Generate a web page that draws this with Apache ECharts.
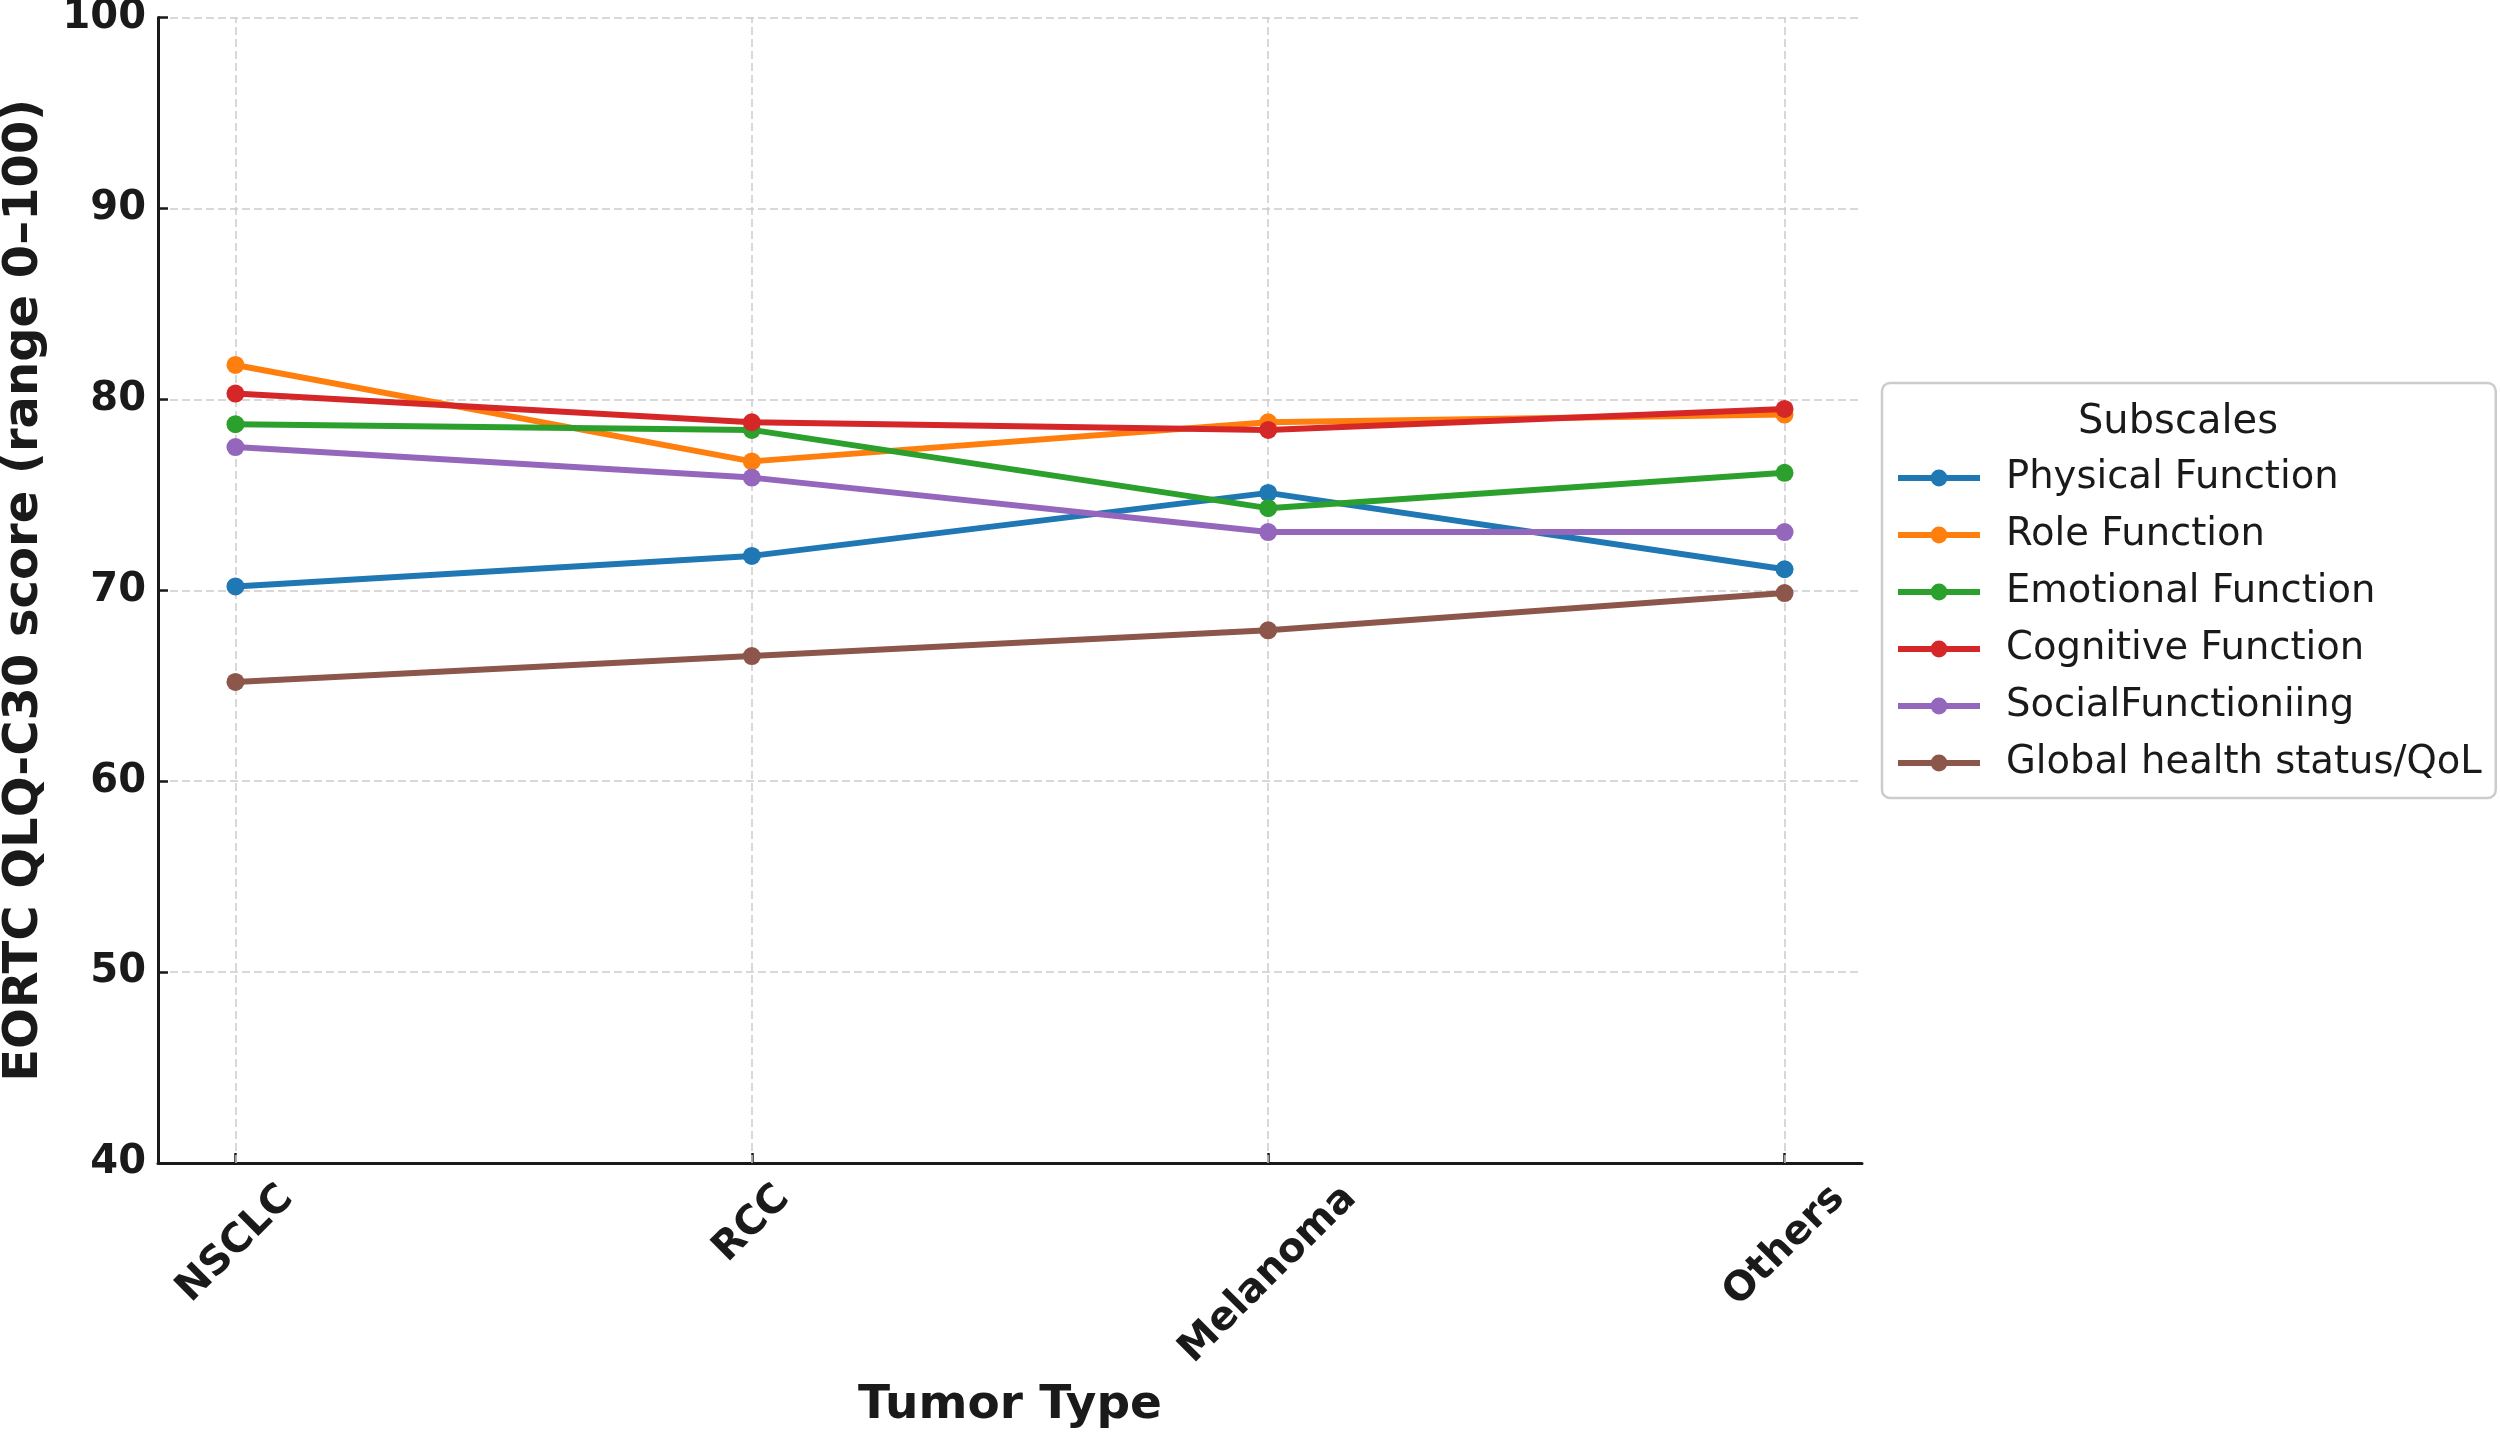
<!DOCTYPE html>
<html>
<head>
<meta charset="utf-8">
<title>EORTC QLQ-C30 by tumor type</title>
<script src="https://cdn.jsdelivr.net/npm/echarts@6/dist/echarts.min.js"></script>
<style>
  html, body { margin: 0; padding: 0; background: #fff; }
  #main { width: 2500px; height: 1432px; }
</style>
</head>
<body>
<div id="main"></div>
<script>
// categories on the x axis
const tumorTypes = ['NSCLC', 'RCC', 'Melanoma', 'Others'];
const yTicks = [40, 50, 60, 70, 80, 90, 100];

// one array per subscale
const physicalFunction = [70.2, 71.8, 75.1, 71.1];
const roleFunction = [81.8, 76.75, 78.8, 79.2];
const emotionalFunction = [78.7, 78.4, 74.3, 76.15];
const cognitiveFunction = [80.3, 78.8, 78.4, 79.5];
const socialFunctioning = [77.5, 75.9, 73.05, 73.05];
const globalHealth = [65.2, 66.55, 67.9, 69.85];

const subscaleNames = [
    'Physical Function',
    'Role Function',
    'Emotional Function',
    'Cognitive Function',
    'SocialFunctioniing',
    'Global health status/QoL'
];
const subscaleValues = [physicalFunction, roleFunction, emotionalFunction,
    cognitiveFunction, socialFunctioning, globalHealth];
const colors = ['#1f77b4', '#ff7f0e', '#2ca02c', '#d62728', '#9467bd', '#8c564b'];

const fontFamily = '"DejaVu Sans", sans-serif';
const textColor = '#1a1a1a';
const gridColor = '#cccccc';

// matplotlib centres the rotated label box under the tick with its top at a fixed gap,
// so longer labels sit lower; shift each one with rich padding to mimic that
const ctx = document.createElement('canvas').getContext('2d');
ctx.font = 'bold 40px "DejaVu Sans"';
const labelWidths = tumorTypes.map(t => ctx.measureText(t).width);
const minWidth = Math.min(...labelWidths);
const labelRich = {};
tumorTypes.forEach((t, i) => {
    const p = (labelWidths[i] - minWidth) / 2;
    labelRich['t' + i] = {
        fontSize: 40,
        fontWeight: 'bold',
        fontFamily: fontFamily,
        color: textColor,
        lineHeight: 40,
        padding: [p, p, 0, 0]
    };
});

const categoryIdx = tumorTypes.map((t, i) => i);

let series = subscaleNames.map((name, s) => ({
    name: name,
    type: 'line',
    symbol: 'circle',
    symbolSize: 18,
    color: colors[s],
    lineStyle: { width: 6, color: colors[s] },
    itemStyle: { color: colors[s] },
    data: subscaleValues[s].map((v, i) => [i, v]),
    z: 3 + s
}));

// vertical dashed grid lines at each category
series[0].markLine = {
    silent: true,
    symbol: 'none',
    label: { show: false },
    lineStyle: { color: gridColor, width: 1.5, type: [8, 4] },
    data: categoryIdx.map(i => ({ xAxis: i })),
    z: 1
};

let chart = echarts.init(document.getElementById('main'));
let option = {
    backgroundColor: '#ffffff',
    animation: false,
    grid: {
        left: 158,
        right: 638,
        top: 17.5,
        bottom: 269,
        containLabel: false,
        outerBoundsMode: 'none'
    },
    xAxis: {
        type: 'value',
        min: -0.15,
        max: 3.15,
        name: 'Tumor Type',
        nameLocation: 'middle',
        nameGap: 219,
        nameTextStyle: {
            fontSize: 47,
            fontWeight: 'bold',
            fontFamily: fontFamily,
            color: textColor
        },
        axisLine: { show: true, onZero: false, lineStyle: { color: textColor, width: 3 } },
        axisTick: {
            show: true,
            inside: true,
            length: 10,
            customValues: categoryIdx,
            lineStyle: { color: textColor, width: 2.5 }
        },
        axisLabel: {
            show: true,
            customValues: categoryIdx,
            rotate: 45,
            align: 'center',
            verticalAlign: 'middle',
            margin: 61,
            formatter: v => {
                const i = Math.round(v);
                return '{t' + i + '|' + tumorTypes[i] + '}';
            },
            rich: labelRich
        },
        splitLine: { show: false }
    },
    yAxis: {
        type: 'value',
        min: yTicks[0],
        max: yTicks[yTicks.length - 1],
        interval: 10,
        name: 'EORTC QLQ-C30 score (range 0\u2013100)',
        nameLocation: 'middle',
        nameGap: 109,
        nameRotate: 90,
        nameTextStyle: {
            fontSize: 48,
            fontWeight: 'bold',
            fontFamily: fontFamily,
            color: textColor
        },
        axisLine: { show: true, onZero: false, lineStyle: { color: textColor, width: 3 } },
        axisTick: {
            show: true,
            inside: true,
            length: 10,
            lineStyle: { color: textColor, width: 2.5 }
        },
        axisLabel: {
            margin: 12,
            fontSize: 40,
            fontWeight: 'bold',
            fontFamily: fontFamily,
            color: textColor
        },
        splitLine: {
            show: true,
            lineStyle: { color: gridColor, width: 1.5, type: [8, 4] }
        }
    },
    legend: {
        orient: 'vertical',
        left: 1882,
        top: 383,
        padding: [75, 14, 15, 13],
        itemWidth: 82,
        itemHeight: 21,
        itemGap: 17,
        backgroundColor: '#ffffff',
        borderColor: gridColor,
        borderWidth: 2.5,
        borderRadius: 8,
        lineStyle: { width: 6 },
        textStyle: {
            fontSize: 38.5,
            fontFamily: fontFamily,
            color: textColor,
            lineHeight: 40,
            padding: [0, 0, 0, 21]
        },
        data: subscaleNames
    },
    graphic: [{
        type: 'text',
        x: 2178,
        y: 423,
        z: 100,
        style: {
            text: 'Subscales',
            fontSize: 40,
            fontFamily: fontFamily,
            fill: textColor,
            textAlign: 'center',
            textVerticalAlign: 'middle'
        }
    }],
    series: series
};
chart.setOption(option);
</script>
</body>
</html>
